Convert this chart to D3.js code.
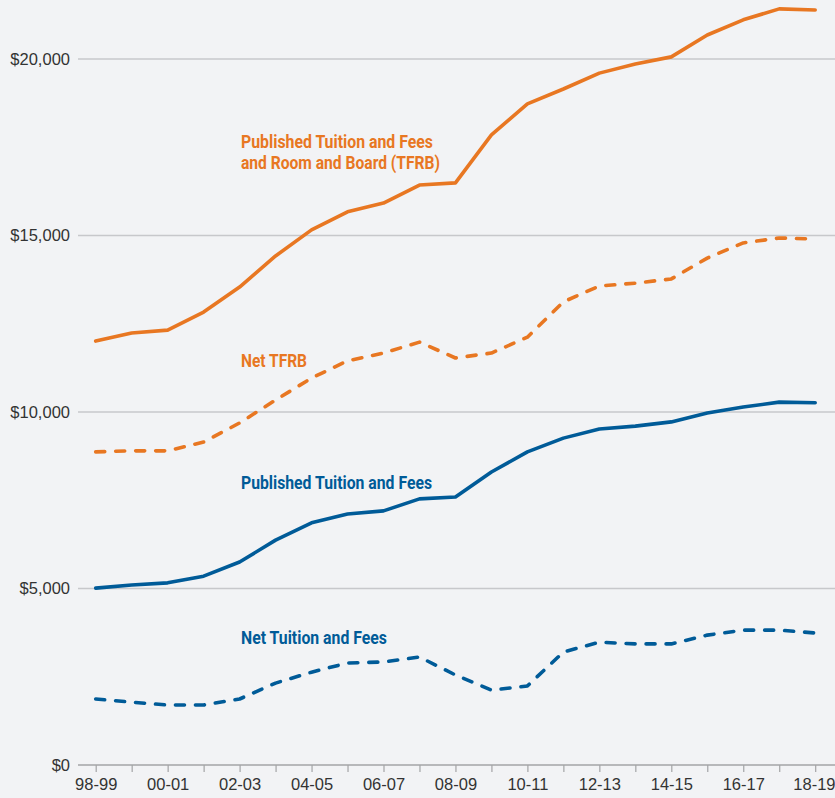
<!DOCTYPE html>
<html>
<head>
<meta charset="utf-8">
<script src="https://cdn.jsdelivr.net/npm/d3@7"></script>
<style>
  html, body { margin: 0; padding: 0; background: #f2f3f5; }
  svg { display: block; }
</style>
</head>
<body>
<div id="container"></div>
<script>
const years = ['98-99','99-00','00-01','01-02','02-03','03-04','04-05','05-06','06-07','07-08','08-09',
    '09-10','10-11','11-12','12-13','13-14','14-15','15-16','16-17','17-18','18-19'];
const yTicks = [0, 5000, 10000, 15000, 20000];

const publishedTfrb = [12010, 12240, 12320, 12830, 13540, 14420, 15160, 15670, 15920, 16430, 16490,
    17850, 18730, 19150, 19600, 19860, 20060, 20680, 21110, 21420, 21390];
const netTfrb = [8870, 8900, 8900, 9150, 9690, 10340, 10960, 11450, 11670, 11980, 11530,
    11670, 12120, 13120, 13570, 13650, 13770, 14360, 14790, 14930, 14900];
const publishedTf = [5010, 5100, 5160, 5350, 5750, 6370, 6860, 7110, 7200, 7540, 7590,
    8300, 8870, 9260, 9520, 9600, 9720, 9970, 10140, 10280, 10260];
const netTf = [1870, 1780, 1700, 1700, 1870, 2320, 2630, 2890, 2920, 3060, 2550,
    2120, 2240, 3200, 3480, 3430, 3430, 3680, 3820, 3820, 3740];

// label anchor values (baseline of first line)
const seriesLabels = [
    { lines: ['Published Tuition and Fees', 'and Room and Board (TFRB)'], widths: [192, 199], color: '#e87722', value: 17480 },
    { lines: ['Net TFRB'], widths: [66], color: '#e87722', value: 11270 },
    { lines: ['Published Tuition and Fees'], widths: [191], color: '#005b98', value: 7820 },
    { lines: ['Net Tuition and Fees'], widths: [146], color: '#005b98', value: 3430 }
];

const specs = { width: 835, height: 798, margin: { top: 59, right: 0, bottom: 33, left: 78 } };
const orange = '#e87722';
const blue = '#005b98';

const svg = d3.select('#container')
    .append('svg').attr('width', specs.width).attr('height', specs.height);

svg.append('rect').attr('width', specs.width).attr('height', specs.height).attr('fill', '#f2f3f5');

const xScale = d3.scalePoint().domain(years).range([95.7, 815.2]);
const yScale = d3.scaleLinear().domain([0, 20000]).range([specs.height - specs.margin.bottom, specs.margin.top]);

// gridlines
svg.append('g').selectAll('line')
    .data(yTicks.filter(d => d > 0))
    .join('line')
    .attr('x1', specs.margin.left).attr('x2', specs.width)
    .attr('y1', d => yScale(d)).attr('y2', d => yScale(d))
    .attr('stroke', '#c7c8cb').attr('stroke-width', 1.5);

// y labels
svg.append('g').selectAll('text')
    .data(yTicks)
    .join('text')
    .attr('x', 70).attr('y', d => yScale(d))
    .attr('dy', '0.35em')
    .attr('text-anchor', 'end')
    .attr('font-family', 'Liberation Sans, Arial, sans-serif')
    .attr('font-size', 16.5)
    .attr('fill', '#333')
    .text(d => d3.format('$,')(d));

// x axis
const xAxis = d3.axisBottom(xScale)
    .tickSize(7)
    .tickFormat((d, i) => i % 2 === 0 ? d : '');
const gx = svg.append('g')
    .attr('transform', `translate(0,${yScale(0)})`)
    .call(xAxis);
gx.select('.domain').remove();
gx.append('line')
    .attr('x1', specs.margin.left).attr('x2', specs.width)
    .attr('stroke', '#a3a4a6').attr('stroke-width', 1.5);
gx.selectAll('.tick line').attr('stroke', '#a3a4a6').attr('stroke-width', 1.2);
gx.selectAll('.tick text')
    .attr('y', 13)
    .attr('dy', '0.71em')
    .attr('font-family', 'Liberation Sans, Arial, sans-serif')
    .attr('font-size', 16.5)
    .attr('fill', '#333');
// last label sits flush with the right edge, as in the source
gx.selectAll('.tick text').filter(d => d === years[years.length - 1])
    .attr('text-anchor', 'end').attr('x', specs.width - xScale(years[years.length - 1]));

const line = d3.line()
    .x((d, i) => xScale(years[i]))
    .y(d => yScale(d));

const drawSeries = (data, color, dashed) => {
    svg.append('path')
        .attr('d', line(data))
        .attr('fill', 'none')
        .attr('stroke', color)
        .attr('stroke-width', 3.6)
        .attr('stroke-linejoin', 'round')
        .attr('stroke-linecap', 'round')
        .attr('stroke-dasharray', dashed ? '9,11' : null);
};

drawSeries(publishedTfrb, orange, false);
drawSeries(netTfrb, orange, true);
drawSeries(publishedTf, blue, false);
drawSeries(netTf, blue, true);

// series labels
seriesLabels.forEach(s => {
    s.lines.forEach((t, i) => {
        svg.append('text')
            .attr('x', 241)
            .attr('y', yScale(s.value) + i * 21)
            .attr('font-family', 'Roboto, sans-serif')
            .attr('font-weight', 700)
            .attr('font-size', 18.5)
            .attr('textLength', s.widths[i])
            .attr('lengthAdjust', 'spacingAndGlyphs')
            .attr('fill', s.color)
            .text(t);
    });
});
</script>
</body>
</html>
